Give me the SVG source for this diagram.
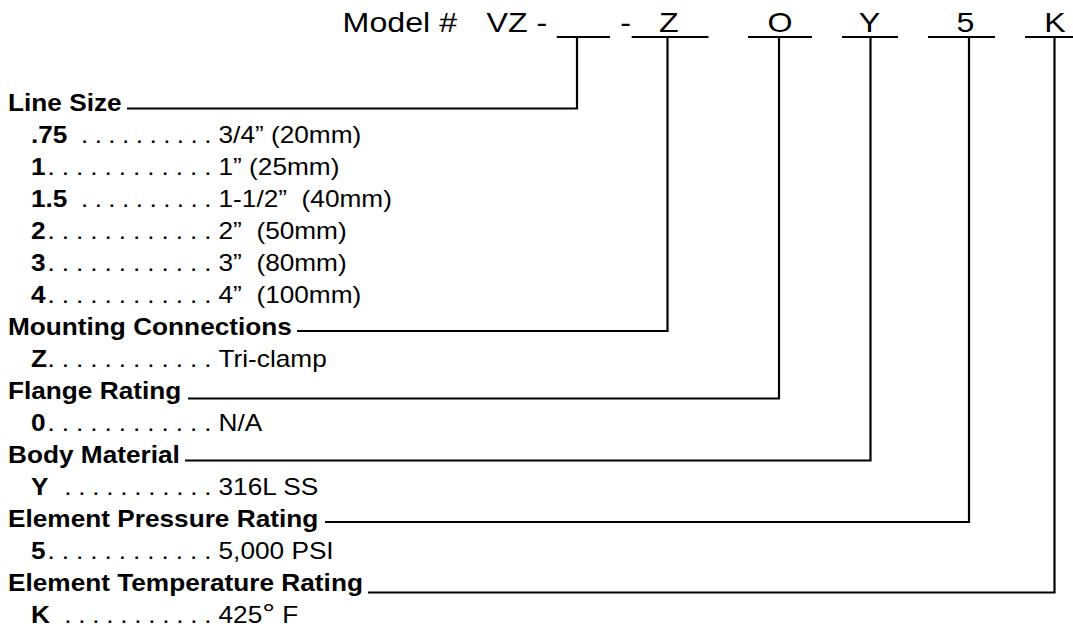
<svg xmlns="http://www.w3.org/2000/svg" width="1073" height="629" viewBox="0 0 1073 629">
<style>
text{font-family:"Liberation Sans",Arial,Helvetica,sans-serif;fill:#000;white-space:pre}
.hd{font-size:28.5px}
.b{font-size:23px;font-weight:bold}
.r{font-size:23px}
.ln{stroke:#000;stroke-width:2.2;fill:none}
</style>
<rect width="1073" height="629" fill="#fff"/>
<g id="model-number">
  <g transform="scale(1.13 1)">
    <text class="hd" x="303.2" y="32.5">Model #</text>
    <text class="hd" x="430.5" y="32.5">VZ -</text>
    <text class="hd" x="549" y="32.5">-</text>
    <text class="hd" x="592" y="32.5" text-anchor="middle">Z</text>
    <text class="hd" x="690.3" y="32.5" text-anchor="middle">O</text>
    <text class="hd" x="769.5" y="32.5" text-anchor="middle">Y</text>
    <text class="hd" x="854.4" y="32.5" text-anchor="middle">5</text>
    <text class="hd" x="933.6" y="32.5" text-anchor="middle">K</text>
  </g>
  <g class="ln">
    <line x1="556.7" y1="37" x2="610" y2="37"/>
    <line x1="631.7" y1="37" x2="708.5" y2="37"/>
    <line x1="748" y1="37" x2="812" y2="37"/>
    <line x1="842" y1="37" x2="898" y2="37"/>
    <line x1="928" y1="37" x2="995" y2="37"/>
    <line x1="1025" y1="37" x2="1073" y2="37"/>
  </g>
</g>
<g id="connectors" class="ln">
  <path d="M127 108.5H577V37"/>
  <path d="M297 331H667.5V37"/>
  <path d="M188 398.5H779V37"/>
  <path d="M185 460.5H870.5V37"/>
  <path d="M325 522H969V37"/>
  <path d="M368 592.5H1054.5V37"/>
</g>
<g transform="scale(1.14 1)">
  <g id="line-size">
    <text class="b" x="7" y="111">Line Size</text>
    <text class="b" x="27.2" y="143">.75</text>
    <text class="r" x="71" y="143" textLength="114.6" lengthAdjust="spacing">. . . . . . . . . .</text>
    <text class="r" x="191.7" y="143">3/4” (20mm)</text>
    <text class="b" x="27.2" y="175">1</text>
    <text class="r" x="41.75" y="175" textLength="143.8" lengthAdjust="spacing">. . . . . . . . . . . .</text>
    <text class="r" x="191.7" y="175">1” (25mm)</text>
    <text class="b" x="27.2" y="207">1.5</text>
    <text class="r" x="71" y="207" textLength="114.6" lengthAdjust="spacing">. . . . . . . . . .</text>
    <text class="r" x="191.7" y="207">1-1/2”  (40mm)</text>
    <text class="b" x="27.2" y="239">2</text>
    <text class="r" x="41.75" y="239" textLength="143.8" lengthAdjust="spacing">. . . . . . . . . . . .</text>
    <text class="r" x="191.7" y="239">2”  (50mm)</text>
    <text class="b" x="27.2" y="271">3</text>
    <text class="r" x="41.75" y="271" textLength="143.8" lengthAdjust="spacing">. . . . . . . . . . . .</text>
    <text class="r" x="191.7" y="271">3”  (80mm)</text>
    <text class="b" x="27.2" y="303">4</text>
    <text class="r" x="41.75" y="303" textLength="143.8" lengthAdjust="spacing">. . . . . . . . . . . .</text>
    <text class="r" x="191.7" y="303">4”  (100mm)</text>
  </g>
  <g id="mounting-connections">
    <text class="b" x="7" y="335">Mounting Connections</text>
    <text class="b" x="27.2" y="367">Z</text>
    <text class="r" x="41.75" y="367" textLength="143.8" lengthAdjust="spacing">. . . . . . . . . . . .</text>
    <text class="r" x="191.7" y="367">Tri-clamp</text>
  </g>
  <g id="flange-rating">
    <text class="b" x="7" y="399">Flange Rating</text>
    <text class="b" x="27.2" y="431">0</text>
    <text class="r" x="41.75" y="431" textLength="143.8" lengthAdjust="spacing">. . . . . . . . . . . .</text>
    <text class="r" x="191.7" y="431">N/A</text>
  </g>
  <g id="body-material">
    <text class="b" x="7" y="463">Body Material</text>
    <text class="b" x="27.2" y="495">Y</text>
    <text class="r" x="56.4" y="495" textLength="129.1" lengthAdjust="spacing">. . . . . . . . . . .</text>
    <text class="r" x="191.7" y="495">316L SS</text>
  </g>
  <g id="element-pressure-rating">
    <text class="b" x="7" y="527">Element Pressure Rating</text>
    <text class="b" x="27.2" y="559">5</text>
    <text class="r" x="41.75" y="559" textLength="143.8" lengthAdjust="spacing">. . . . . . . . . . . .</text>
    <text class="r" x="191.7" y="559">5,000 PSI</text>
  </g>
  <g id="element-temperature-rating">
    <text class="b" x="7" y="591">Element Temperature Rating</text>
    <text class="b" x="27.2" y="623">K</text>
    <text class="r" x="56.4" y="623" textLength="129.1" lengthAdjust="spacing">. . . . . . . . . . .</text>
    <text class="r" x="191.7" y="623">425<tspan font-size="28">°</tspan> F</text>
  </g>
</g>
</svg>
